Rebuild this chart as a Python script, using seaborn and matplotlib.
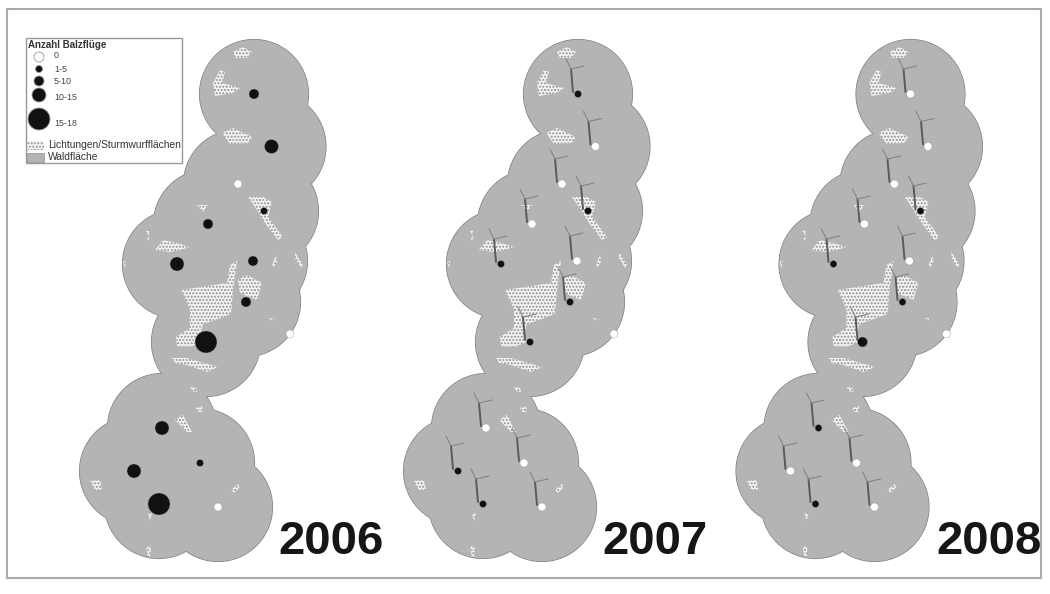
import matplotlib
matplotlib.use("Agg")
import matplotlib.pyplot as plt
from matplotlib.patches import Circle, Polygon, Rectangle
import pandas as pd
import seaborn as sns

# Data (image-pixel map coordinates)
years = ['2006', '2007', '2008']
panel_offset = [0, 324, 656.5]
year_x = [331, 655, 989]
site_x = [254, 271.5, 238, 264, 208, 177, 253, 246, 206, 290, 162, 134, 159, 200, 218]
site_y = [94, 146.5, 184, 211, 224, 264, 261, 302, 342, 334, 428, 471, 504, 463, 507]
site_has_turbine = [1, 1, 1, 1, 1, 1, 1, 1, 1, 0, 1, 1, 1, 1, 1]
classes_2006 = ['5-10', '10-15', '0', '1-5', '5-10', '10-15', '5-10', '5-10', '15-18', '0',
                '10-15', '10-15', '15-18', '1-5', '0']
classes_2007 = ['1-5', '0', '0', '1-5', '0', '1-5', '0', '1-5', '1-5', '0',
                '0', '1-5', '1-5', '0', '0']
classes_2008 = ['0', '0', '0', '1-5', '0', '1-5', '0', '1-5', '5-10', '0',
                '1-5', '0', '1-5', '0', '0']
classes_by_year = [classes_2006, classes_2007, classes_2008]
legend_classes = ['0', '1-5', '5-10', '10-15', '15-18']
legend_y = [57, 69, 81, 95, 119]
legend_label_y = [56, 69, 81, 97, 123]
clearings = [
    [(233, 52), (243, 47), (252, 52), (247, 58), (236, 58)],
    [(213, 83), (220, 70), (225, 72), (222, 83), (240, 88), (233, 93), (215, 96)],
    [(222, 133), (233, 128), (252, 137), (248, 143), (230, 144)],
    [(248, 197), (263, 197), (272, 202), (268, 217), (283, 237), (278, 240), (265, 223), (257, 210)],
    [(197, 205), (208, 205), (203, 212)],
    [(155, 250), (163, 240), (177, 243), (190, 247), (180, 250), (170, 252)],
    [(181, 290), (227, 283), (230, 265), (237, 261), (233, 290), (231, 314), (215, 320),
     (203, 324), (200, 335), (203, 342), (190, 347), (177, 346), (176, 337), (190, 328),
     (190, 310), (186, 300)],
    [(238, 280), (247, 275), (262, 283), (257, 300), (240, 293)],
    [(172, 358), (187, 358), (218, 367), (207, 372), (187, 365), (175, 363)],
    [(190, 387), (196, 388), (197, 392), (192, 391)],
    [(196, 408), (203, 406), (202, 412), (198, 412)],
    [(175, 420), (183, 415), (192, 432), (187, 432)],
    [(90, 481), (100, 480), (102, 490), (95, 490)],
    [(231, 490), (238, 484), (240, 487), (234, 493)],
    [(272, 265), (276, 255), (277, 262), (274, 267)],
    [(295, 252), (303, 265), (301, 268), (295, 258)],
    [(268, 318), (275, 319), (273, 321)],
    [(146, 231), (149, 230), (149, 236)],
    [(147, 238), (150, 236), (148, 241)],
    [(123, 262), (126, 261), (125, 268)],
    [(146, 546), (151, 547), (150, 557), (148, 557)],
    [(148, 513), (152, 513), (150, 521)],
]
# turbine geometry relative to its site
tower = [(-5, -2), (-7, -25)]
blades = [[(-7, -25), (-12, -35)], [(-7, -25), (6, -28)]]

sizes_px = {'0': 8, '1-5': 7, '5-10': 10, '10-15': 14, '15-18': 22}
sizes = {k: (v * 0.72) ** 2 for k, v in sizes_px.items()}
legend_sizes = dict(sizes, **{'0': (10 * 0.72) ** 2})
colors = {'0': 'white', '1-5': '#111111', '5-10': '#111111', '10-15': '#111111', '15-18': '#111111'}

sns.set_theme(style='white')
plt.rcParams['font.family'] = ['Liberation Sans', 'DejaVu Sans']
plt.rcParams['hatch.linewidth'] = 0.35
fig = plt.figure(figsize=(10.5, 5.94), dpi=100)
ax = fig.add_axes([0, 0, 1, 1])
ax.set_xlim(0, 1050)
ax.set_ylim(594, 0)
ax.axis('off')
ax.add_patch(Rectangle((7, 9), 1034, 569, fc='white', ec='#aaaaaa', lw=1.5, zorder=0))

FOREST = '#b4b4b4'
CLEAR_KW = dict(fc='#f2f2f2', ec='#a6a6a6', lw=0, hatch='ooooo')

for i, (year, off, cls) in enumerate(zip(years, panel_offset, classes_by_year)):
    xs = [x + off for x in site_x]
    turb = [(x, y) for x, y, t in zip(xs, site_y, site_has_turbine) if t]
    for x, y in turb:
        ax.add_patch(Circle((x, y), 54.5, fc='#858585', ec='#858585', lw=0.8, zorder=1))
    for x, y in turb:
        ax.add_patch(Circle((x, y), 54.3, fc=FOREST, ec='none', zorder=2))
    for poly in clearings:
        ax.add_patch(Polygon([(px + off, py) for px, py in poly], closed=True, zorder=3, **CLEAR_KW))
    if i > 0:
        rows = []
        for k, (x, y) in enumerate(turb):
            rows += [{'x': x + dx, 'y': y + dy, 'u': k} for dx, dy in tower]
        sns.lineplot(data=pd.DataFrame(rows), x='x', y='y', units='u', estimator=None, sort=False,
                     color='#5a5a5a', lw=1.4, ax=ax, zorder=4, legend=False)
        rows = []
        for k, (x, y) in enumerate(turb):
            for b, blade in enumerate(blades):
                rows += [{'x': x + dx, 'y': y + dy, 'u': k * 10 + b} for dx, dy in blade]
        sns.lineplot(data=pd.DataFrame(rows), x='x', y='y', units='u', estimator=None, sort=False,
                     color='#858585', lw=0.8, ax=ax, zorder=4, legend=False)
    df = pd.DataFrame({'x': xs, 'y': site_y, 'k': cls})
    sns.scatterplot(data=df, x='x', y='y', hue='k', size='k', sizes=sizes, palette=colors,
                    hue_order=legend_classes, size_order=legend_classes, edgecolor='#999999',
                    linewidth=0.3, legend=False, ax=ax, zorder=5)
    ax.text(year_x[i], 554, year, fontsize=34, fontweight='bold', color='#161616',
            ha='center', va='baseline', zorder=6)

# Legend
ax.add_patch(Rectangle((26, 38), 156, 125, fc='white', ec='#999999', lw=1.0, zorder=6))
ax.text(28, 44.5, 'Anzahl Balzflüge', fontsize=7.0, fontweight='bold', color='#333333', va='center', zorder=7)
ldf = pd.DataFrame({'x': [39] * 5, 'y': legend_y, 'k': legend_classes})
sns.scatterplot(data=ldf, x='x', y='y', hue='k', size='k', sizes=legend_sizes, palette=colors,
                hue_order=legend_classes, size_order=legend_classes, edgecolor='#999999',
                linewidth=0.6, legend=False, ax=ax, zorder=7)
for lab, y in zip(legend_classes, legend_label_y):
    ax.text(54, y, lab, fontsize=6.4, color='#444444', va='center', zorder=7)
ax.add_patch(Rectangle((27, 141), 17, 9, zorder=7, **CLEAR_KW))
ax.add_patch(Rectangle((27, 153), 17, 9, fc=FOREST, ec='#999999', lw=0.6, zorder=7))
ax.text(48, 145.5, 'Lichtungen/Sturmwurfflächen', fontsize=7.4, color='#333333', va='center', zorder=7)
ax.text(48, 157.5, 'Waldfläche', fontsize=7.4, color='#333333', va='center', zorder=7)
ax.set_xlabel('')
ax.set_ylabel('')
fig.savefig('out.png', dpi=100)
